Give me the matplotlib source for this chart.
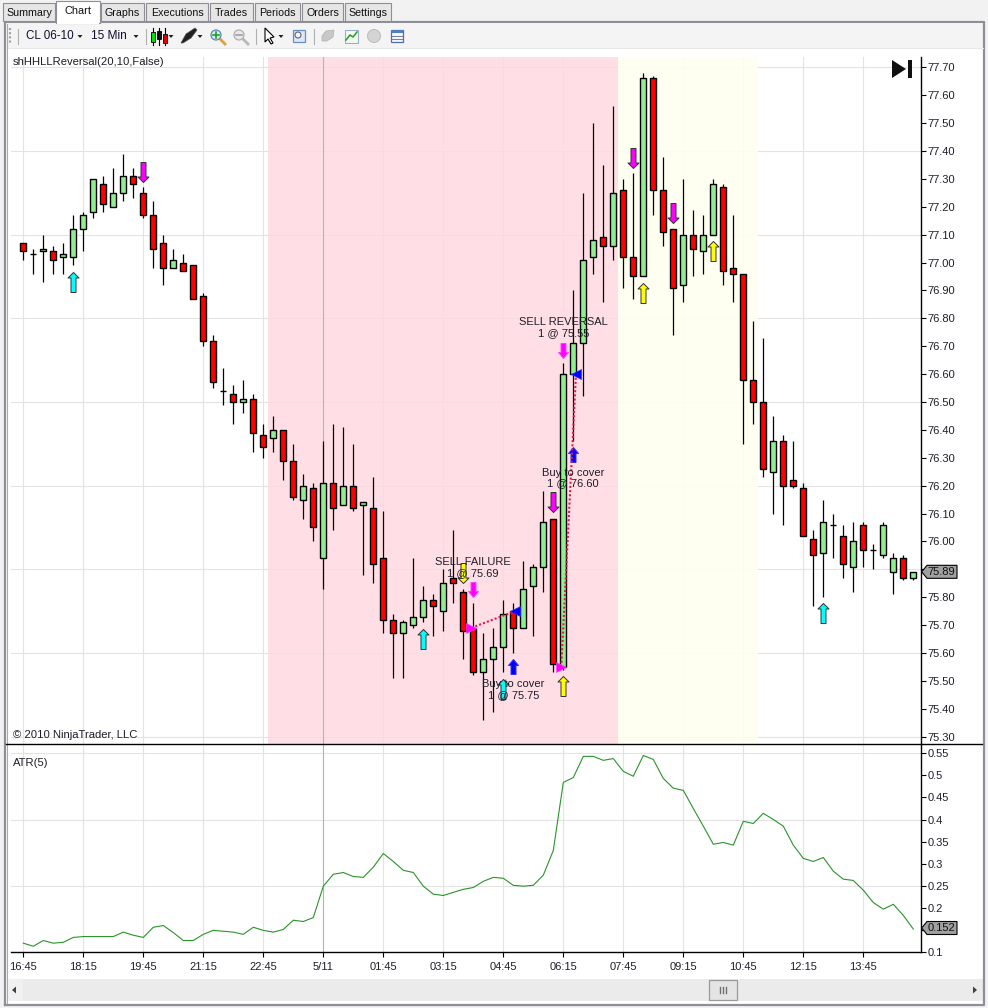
import matplotlib
matplotlib.use("Agg")
import matplotlib.pyplot as plt
from matplotlib.patches import Rectangle, Polygon, Circle
from matplotlib.path import Path

plt.rcParams["font.family"] = ["Liberation Sans", "DejaVu Sans"]

# candle data (one row per 15 min bar)
opens = [77.07, 77.03, 77.04, 77.04, 77.02, 77.02, 77.12, 77.18, 77.28, 77.20,
         77.25, 77.31, 77.25, 77.17, 77.07, 76.98, 77.00, 76.99, 76.88, 76.72,
         76.54, 76.53, 76.50, 76.51, 76.38, 76.37, 76.40, 76.29, 76.15, 76.19,
         75.94, 76.21, 76.13, 76.20, 76.13, 76.12, 75.94, 75.72, 75.67, 75.70,
         75.73, 75.79, 75.75, 75.87, 75.82, 75.69, 75.53, 75.58, 75.62, 75.75,
         75.69, 75.84, 75.91, 76.08, 75.55, 76.60, 76.71, 77.02, 77.09, 77.06,
         77.26, 77.02, 76.95, 77.66, 77.26, 77.12, 76.92, 77.10, 77.04, 77.10,
         77.27, 76.98, 76.96, 76.58, 76.50, 76.25, 76.36, 76.22, 76.19, 76.01,
         75.96, 76.06, 76.02, 75.91, 76.06, 75.97, 75.95, 75.89, 75.94, 75.87]
closes = [77.04, 77.03, 77.05, 77.01, 77.03, 77.12, 77.17, 77.30, 77.21, 77.25,
          77.31, 77.28, 77.17, 77.05, 76.98, 77.01, 76.97, 76.87, 76.72, 76.57,
          76.54, 76.50, 76.51, 76.39, 76.34, 76.40, 76.29, 76.16, 76.20, 76.05,
          76.21, 76.12, 76.20, 76.12, 76.14, 75.92, 75.72, 75.67, 75.71, 75.73,
          75.79, 75.77, 75.85, 75.85, 75.68, 75.53, 75.58, 75.62, 75.74, 75.69,
          75.83, 75.91, 76.07, 75.56, 76.60, 76.71, 77.01, 77.08, 77.06, 77.25,
          77.02, 76.95, 77.66, 77.26, 77.11, 76.91, 77.10, 77.05, 77.10, 77.28,
          76.97, 76.96, 76.58, 76.50, 76.26, 76.36, 76.20, 76.20, 76.02, 75.95,
          76.07, 76.06, 75.92, 76.00, 75.97, 75.97, 76.06, 75.94, 75.87, 75.89]
highs = [77.07, 77.05, 77.10, 77.06, 77.07, 77.17, 77.18, 77.30, 77.31, 77.34,
         77.39, 77.34, 77.27, 77.22, 77.10, 77.05, 77.03, 76.99, 76.89, 76.74,
         76.62, 76.56, 76.58, 76.53, 76.42, 76.45, 76.40, 76.35, 76.24, 76.21,
         76.36, 76.42, 76.41, 76.35, 76.14, 76.23, 76.11, 75.74, 75.72, 75.94,
         75.84, 75.81, 75.90, 76.04, 75.83, 75.78, 75.67, 75.69, 75.79, 75.78,
         75.93, 75.92, 76.18, 76.08, 76.64, 76.90, 77.25, 77.50, 77.35, 77.56,
         77.30, 77.32, 77.68, 77.67, 77.38, 77.12, 77.30, 77.19, 77.17, 77.30,
         77.28, 77.17, 76.96, 76.79, 76.73, 76.45, 76.38, 76.36, 76.21, 76.04,
         76.15, 76.10, 76.06, 76.07, 76.07, 75.99, 76.07, 75.96, 75.95, 75.89]
lows = [77.01, 76.96, 76.93, 76.96, 76.96, 76.99, 77.04, 77.16, 77.18, 77.20,
        77.22, 77.23, 77.16, 76.98, 76.92, 76.98, 76.97, 76.87, 76.70, 76.55,
        76.49, 76.42, 76.46, 76.32, 76.30, 76.32, 76.22, 76.15, 76.08, 76.00,
        75.83, 76.04, 76.13, 76.11, 75.88, 75.85, 75.67, 75.51, 75.51, 75.69,
        75.71, 75.66, 75.68, 75.78, 75.58, 75.52, 75.36, 75.39, 75.53, 75.60,
        75.69, 75.66, 75.82, 75.53, 75.54, 76.36, 76.52, 76.96, 76.86, 77.01,
        76.91, 76.87, 76.95, 77.17, 77.06, 76.74, 76.86, 76.95, 76.96, 77.10,
        76.92, 76.86, 76.35, 76.42, 76.23, 76.10, 76.06, 76.19, 76.02, 75.77,
        75.80, 75.94, 75.87, 75.82, 75.91, 75.90, 75.94, 75.81, 75.86, 75.86]

atr = [0.120, 0.113, 0.126, 0.120, 0.122, 0.133, 0.135, 0.135, 0.135, 0.135,
       0.145, 0.138, 0.133, 0.156, 0.160, 0.144, 0.126, 0.126, 0.140, 0.149,
       0.147, 0.145, 0.140, 0.156, 0.149, 0.145, 0.151, 0.172, 0.169, 0.178,
       0.249, 0.276, 0.280, 0.271, 0.269, 0.292, 0.323, 0.305, 0.285, 0.280,
       0.249, 0.231, 0.228, 0.235, 0.242, 0.246, 0.260, 0.269, 0.267, 0.251,
       0.249, 0.251, 0.274, 0.330, 0.484, 0.495, 0.543, 0.543, 0.534, 0.538,
       0.509, 0.498, 0.545, 0.536, 0.493, 0.471, 0.466, 0.425, 0.385, 0.344,
       0.348, 0.342, 0.396, 0.391, 0.414, 0.400, 0.385, 0.342, 0.312, 0.305,
       0.314, 0.283, 0.265, 0.262, 0.240, 0.212, 0.197, 0.208, 0.183, 0.152]

# axis ticks
time_ticks = [0, 6, 12, 18, 24, 30, 36, 42, 48, 54, 60, 66, 72, 78, 84]
time_labels = ["16:45", "18:15", "19:45", "21:15", "22:45", "5/11", "01:45", "03:15",
               "04:45", "06:15", "07:45", "09:15", "10:45", "12:15", "13:45"]
price_ticks = [75.3, 75.4, 75.5, 75.6, 75.7, 75.8, 75.9, 76.0, 76.1, 76.2, 76.3, 76.4, 76.5,
               76.6, 76.7, 76.8, 76.9, 77.0, 77.1, 77.2, 77.3, 77.4, 77.5, 77.6, 77.7]
price_grid = [75.3, 75.6, 75.9, 76.2, 76.5, 76.8, 77.1, 77.4, 77.7]
atr_ticks = [0.1, 0.15, 0.2, 0.25, 0.3, 0.35, 0.4, 0.45, 0.5, 0.55]
atr_labels = ["0.1", "", "0.2", "0.25", "0.3", "0.35", "0.4", "0.45", "0.5", "0.55"]
atr_grid = [0.25, 0.4, 0.55]

# session shading, in bar numbers
pink_zone = (24.47, 59.47)
yellow_zone = (59.47, 73.44)

# signal arrows: bar number and price of the arrow tip
cyan_up_x = [5, 40, 48, 80]
cyan_up_y = [76.965, 75.687, 75.508, 75.78]
magenta_dn_x = [12, 53, 61, 65]
magenta_dn_y = [77.287, 76.104, 77.339, 77.142]
pink_dn_x = [45, 54]
pink_dn_y = [75.802, 76.659]
yellow_dn_x = [44]
yellow_dn_y = [75.852]
yellow_up_x = [54, 62, 69]
yellow_up_y = [75.519, 76.926, 77.076]
blue_up_x = [49, 55]
blue_up_y = [75.578, 76.337]

# executions
entry_x = [44.8, 53.8]
entry_y = [75.69, 75.55]
exit_x = [49.17, 55.27]
exit_y = [75.75, 76.60]
trade_text = ["SELL FAILURE\n1 @ 75.69", "Buy to cover\n1 @ 75.75",
              "Buy to cover\n1 @ 76.60", "SELL REVERSAL\n1 @ 75.55"]
trade_text_x = [44.95, 49.0, 55.0, 54.0]
trade_text_y = [75.905, 75.468, 76.227, 76.767]

GRID = "#E3E3E3"
LABEL = "#1E1E2A"
W, H = 988, 1008


def arrow_marker(length, up=True):
    """Block arrow with its tip at the origin, length in pixels."""
    s = -1 if up else 1
    hw, sw, hl = 5.5, 2.5, 5.5
    if length < 18:
        hw, sw, hl = 5.0, 2.5, 6.0
    verts = [(0, 0), (hw, s * hl), (sw, s * hl), (sw, s * length),
             (-sw, s * length), (-sw, s * hl), (-hw, s * hl), (0, 0)]
    return Path(verts, closed=True)


def draw_arrows(ax, xs, ys, color, up, length=20, edge="#303030"):
    ax.plot(xs, ys, ls="none", marker=arrow_marker(length, up), ms=2 * length * 0.72,
            mfc=color, mec=edge, mew=0.7, zorder=6)


def px_axes(fig, left, top, right, bottom):
    return fig.add_axes([left / W, 1 - bottom / H, (right - left) / W, (bottom - top) / H])


def price_at(y):
    return 75.9 + (569.3 - y) / 278.9


fig = plt.figure(figsize=(W / 100, H / 100), dpi=100, facecolor="white")

# ---- price panel ----
ax = px_axes(fig, 11, 57, 920.7, 744)
ax.set_xlim((11 - 23.3) / 10, (920.7 - 23.3) / 10)
ax.set_ylim(price_at(744), price_at(57))
for g in price_grid:
    ax.axhline(g, color=GRID, lw=0.8, zorder=1)
for t in time_ticks:
    ax.axvline(t, color=GRID, lw=0.8, zorder=1)
ax.axvspan(*pink_zone, color="#FFD8DF", alpha=0.8, lw=0, zorder=2)
ax.axvspan(*yellow_zone, color="#FFFFF0", alpha=0.9, lw=0, zorder=2)
ax.axvline(30, color="#B4B4B4", lw=0.8, zorder=3)

bar_x = list(range(len(opens)))
ax.vlines(bar_x, lows, highs, color="black", lw=0.9, zorder=4)
bottoms = [min(o, c) for o, c in zip(opens, closes)]
heights = [abs(c - o) for o, c in zip(opens, closes)]
fills = ["#90EE90" if c >= o else "#FF0000" for o, c in zip(opens, closes)]
ax.bar(bar_x, heights, bottom=bottoms, width=0.62, color=fills, edgecolor="black", lw=1.0, zorder=5)

draw_arrows(ax, cyan_up_x, cyan_up_y, "#00FFFF", True)
draw_arrows(ax, magenta_dn_x, magenta_dn_y, "#FF00FF", False)
draw_arrows(ax, pink_dn_x, pink_dn_y, "#FF00FF", False, length=15, edge="#FF40FF")
draw_arrows(ax, yellow_dn_x, yellow_dn_y, "#FFFF00", False)
draw_arrows(ax, yellow_up_x, yellow_up_y, "#FFFF00", True)
draw_arrows(ax, blue_up_x, blue_up_y, "#0000FF", True, length=15, edge="#3030FF")

for k in range(len(entry_x)):
    ax.plot([entry_x[k], exit_x[k]], [entry_y[k], exit_y[k]], color="#E8174B", lw=1.5,
            ls=(0, (1, 1)), zorder=7)
ax.plot(entry_x, entry_y, ls="none", marker=">", ms=6.5, mfc="#FF00FF", mec="#FF40FF", mew=0.5, zorder=7)
ax.plot(exit_x, exit_y, ls="none", marker="<", ms=6.5, mfc="#0000FF", mec="#3030FF", mew=0.5, zorder=7)

for k in range(len(trade_text)):
    ax.text(trade_text_x[k], trade_text_y[k], trade_text[k], ha="center", va="center", fontsize=8,
            color=LABEL, linespacing=1.12, zorder=8)

ax.set_yticks(price_ticks)
ax.set_yticklabels([f"{p:.2f}" for p in price_ticks], fontsize=8, color=LABEL)
ax.yaxis.tick_right()
ax.tick_params(axis="y", length=3.6, width=0.8, pad=1.5, color="black")
ax.set_xticks([])
for name, spine in ax.spines.items():
    spine.set_visible(name == "right")
ax.spines["right"].set_linewidth(1.0)
ax.text(2 / 909.7, 1 - 5 / 687, "shHHLLReversal(20,10,False)", transform=ax.transAxes, ha="left", va="center",
        fontsize=8.1, color=LABEL, zorder=8)
ax.text(2 / 909.7, 9 / 687, "© 2010 NinjaTrader, LLC", transform=ax.transAxes, ha="left", va="center",
        fontsize=8.1, color=LABEL, zorder=8)

# ---- ATR panel ----
ax2 = px_axes(fig, 11, 744, 920.7, 952)
ax2.set_xlim(ax.get_xlim())
ax2.set_ylim(0.1, 0.571)
for g in atr_grid:
    ax2.axhline(g, color=GRID, lw=0.8, zorder=1)
for t in time_ticks:
    ax2.axvline(t, color=GRID, lw=0.8, zorder=1)
ax2.axvline(30, color="#B4B4B4", lw=0.8, zorder=2)
ax2.plot(bar_x, atr, color="#2A942A", lw=0.8, zorder=4)
ax2.set_xticks(time_ticks)
ax2.set_xticklabels(time_labels, fontsize=8, color=LABEL)
ax2.set_yticks(atr_ticks)
ax2.set_yticklabels(atr_labels, fontsize=8, color=LABEL)
ax2.yaxis.tick_right()
ax2.tick_params(axis="y", length=3.6, width=0.8, pad=1.5)
ax2.tick_params(axis="x", length=3.6, width=0.8, pad=3.5)
ax2.spines["top"].set_visible(False)
ax2.spines["left"].set_visible(False)
ax2.spines["right"].set_linewidth(1.0)
ax2.spines["bottom"].set_linewidth(1.0)
ax2.text(2 / 909.7, 1 - 18.5 / 208, "ATR(5)", transform=ax2.transAxes, ha="left", va="center",
         fontsize=8.1, color=LABEL, zorder=8)

# ---- window chrome, in pixel coordinates ----
ui = fig.add_axes([0, 0, 1, 1], facecolor="none", zorder=20)
ui.set_xlim(0, W)
ui.set_ylim(H, 0)
ui.axis("off")


def box(x0, y0, x1, y1, fc, ec="none", lw=0.8, z=1):
    ui.add_patch(Rectangle((x0, y0), x1 - x0, y1 - y0, fc=fc, ec=ec, lw=lw, zorder=z))


# outer background and frame
box(0, 0, 988, 21, "#F2F2F2")
box(0, 21, 5, 1008, "#F2F2F2")
box(984, 21, 988, 1008, "#F2F2F2")
box(0, 1005, 988, 1008, "#F2F2F2")
ui.plot([5, 5, 984, 984, 5], [1005, 22, 22, 1005, 1005], color="#8E8E96", lw=1.6, zorder=2)
ui.plot([7, 7], [24, 1003], color="#A8A8B0", lw=0.8, zorder=2)

# tabs
tab_names = ["Summary", "Graphs", "Executions", "Trades", "Periods", "Orders", "Settings"]
tab_left = [3, 101, 146, 210, 255, 302, 345]
tab_right = [55, 144, 208, 253, 300, 343, 391]
for name, x0, x1 in zip(tab_names, tab_left, tab_right):
    box(x0, 3, x1, 21, "#E6E6E6", ec="#8E8E96", lw=0.8, z=3)
    ui.text((x0 + x1) / 2, 12.5, name, ha="center", va="center", fontsize=7.7, color="#101010", zorder=5)
box(56, 0.7, 100, 23, "white", ec="#8E8E96", lw=0.8, z=4)
box(56.6, 20, 99.4, 24, "white", z=4)
ui.text(78, 10.5, "Chart", ha="center", va="center", fontsize=7.9, color="#101010", zorder=5)

# toolbar
box(8, 24, 983, 48, "#F4F4F4")
ui.plot([8, 983], [48, 48], color="#E8E8E8", lw=0.8, zorder=2)
for sx in (18, 146, 256, 314):
    ui.plot([sx, sx], [29, 44], color="#B0B0B0", lw=0.8, zorder=3)
ui.plot([10, 10], [28, 43], color="#A0A0A0", lw=1.5, ls=(0, (1, 1)), zorder=3)
ui.text(26, 36, "CL 06-10", ha="left", va="center", fontsize=8.4, color="#101030", zorder=5)
ui.text(91, 36, "15 Min", ha="left", va="center", fontsize=8.6, color="#101030", zorder=5)
for dx in (80, 136, 171, 200, 281):
    ui.add_patch(Polygon([(dx - 2.5, 35), (dx + 2.5, 35), (dx, 38)], fc="#202020", ec="none", zorder=5))
for cx, col, y0, y1 in [(153, "#00DD00", 32, 42), (159, "#101010", 31, 39), (165, "#E00000", 34, 43)]:
    ui.plot([cx, cx], [28, 45], color="black", lw=0.8, zorder=4)
    box(cx - 2, y0, cx + 2, y1, col, ec="black", lw=0.6, z=5)
ui.add_patch(Polygon([(181, 43), (186, 34), (195, 28), (197, 30), (191, 38), (183, 43)], fc="#202020",
                     ec="#505050", lw=0.5, zorder=5))
for cx, fc, ec in [(216, "#D8ECF8", "#5A8AB0"), (239, "#E8E8E8", "#B0B0B0")]:
    ui.plot([cx + 4, cx + 9], [39, 44], color="#E0A040" if cx == 216 else "#B8B8B8", lw=2, zorder=4)
    ui.add_patch(Circle((cx, 35), 5, fc=fc, ec=ec, lw=0.9, zorder=5))
ui.plot([213, 219], [35, 35], color="#20A020", lw=1.2, zorder=6)
ui.plot([216, 216], [32, 38], color="#20A020", lw=1.2, zorder=6)
ui.plot([236, 242], [35, 35], color="#A0A0A0", lw=1.2, zorder=6)
ui.add_patch(Polygon([(265, 28), (265, 42), (268, 39), (271, 44), (273, 43), (270, 38), (274, 37)],
                     fc="white", ec="black", lw=0.8, zorder=5))
box(293, 30, 305, 42, "#DCE8F4", ec="#6A8FB8", lw=0.9, z=5)
ui.add_patch(Circle((298, 35), 3, fc="#F4F4F4", ec="#606080", lw=0.8, zorder=6))
ui.add_patch(Polygon([(322, 36), (326, 31), (334, 30), (333, 37), (327, 41), (322, 41)], fc="#C8C8C8",
                     ec="#B0B0B0", lw=0.5, zorder=5))
box(345, 30, 358, 43, "#F4F8F4", ec="#9AB0C8", lw=0.8, z=5)
ui.plot([346, 350, 353, 357], [40, 35, 37, 32], color="#20A020", lw=1.1, zorder=6)
ui.add_patch(Circle((374, 36), 6.5, fc="#D4D4D4", ec="#C0C0C0", lw=0.8, zorder=5))
box(391, 30, 403, 42, "#F4F4FA", ec="#5070A0", lw=0.9, z=5)
box(391, 30, 403, 33, "#5080C0", z=6)
for ly in (36, 39):
    ui.plot([392, 402], [ly, ly], color="#7080A0", lw=0.7, zorder=6)

# panel divider and scroll bar
ui.plot([6, 982], [744, 744], color="black", lw=1.0, zorder=3)
box(8, 979, 983, 1001, "#EBEBEB")
box(8, 979, 23, 1001, "#F0F0F0", z=2)
box(709, 980, 737, 1000, "#E4E4E4", ec="#9A9A9A", lw=0.9, z=3)
for tx in (720, 723, 726):
    ui.plot([tx, tx], [987, 993], color="#707070", lw=1, zorder=4)
ui.add_patch(Polygon([(12, 990), (16, 986.5), (16, 993.5)], fc="#404040", ec="none", zorder=4))
ui.add_patch(Polygon([(977, 990), (973, 986.5), (973, 993.5)], fc="#404040", ec="none", zorder=4))

# last value flags
for y_mid, txt in [(571.8, "75.89"), (928, "0.152")]:
    ui.add_patch(Polygon([(921.7, y_mid), (927, y_mid - 6.5), (957, y_mid - 6.5), (957, y_mid + 6.5),
                          (927, y_mid + 6.5)], fc="#A0A0A0", ec="black", lw=0.8, zorder=6))
    ui.text(941.5, y_mid + 0.3, txt, ha="center", va="center", fontsize=8, color="#101010", zorder=7)

# jump-to-end button on the chart
ui.add_patch(Polygon([(892, 60), (892, 78), (906, 69)], fc="#101010", ec="none", zorder=6))
box(908, 60, 911.5, 78, "#101010", z=6)

fig.savefig("out.png", dpi=100)
